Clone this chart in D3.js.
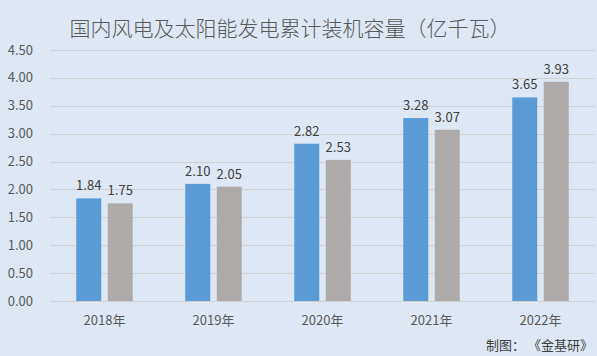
<!DOCTYPE html>
<html><head><meta charset="utf-8">
<script src="https://cdn.jsdelivr.net/npm/d3@7"></script>
<style>body{margin:0;background:#dde8f4;}svg{display:block;}</style>
</head><body>
<svg id="c" width="597" height="356"></svg>
<script>
const categories = ["2018年","2019年","2020年","2021年","2022年"];
const windValues = [1.84,2.10,2.82,3.28,3.65];
const solarValues = [1.75,2.05,2.53,3.07,3.93];
const yTicks = [0,0.5,1,1.5,2,2.5,3,3.5,4,4.5];
const seriesColors = ["#5b9bd5","#aeaaaa"];

(function(){
const svg = d3.select("#c");
const W=597,H=356;
svg.append("rect").attr("width",W).attr("height",H).attr("fill","#dde8f4");
const pl=50,pr=595,pt=50,pb=301;
const x = d3.scaleBand().domain(categories).range([pl,pr]);
const y = d3.scaleLinear().domain([0,4.5]).range([pb,pt]);
const font = "'Microsoft YaHei','Noto Sans CJK SC',sans-serif";

svg.append("g").selectAll("line").data(yTicks).join("line")
  .attr("x1",pl).attr("x2",pr).attr("y1",d=>Math.round(y(d))+0.5).attr("y2",d=>Math.round(y(d))+0.5)
  .attr("stroke","#d0d0d0").attr("stroke-width",1);
svg.append("g").selectAll("text").data(yTicks).join("text")
  .attr("x",33).attr("y",d=>y(d)).attr("dy","0.35em").attr("text-anchor","end")
  .attr("font-family",font).attr("font-size",13).attr("fill","#595959").text(d=>d3.format(".2f")(d));

const bw=25, gap=6.5;
const series=[windValues,solarValues];
series.forEach((vals,si)=>{
  const g=svg.append("g");
  const xpos = c => x(c)+x.bandwidth()/2 + (si===0 ? -gap/2-bw : gap/2);
  g.selectAll("rect").data(categories).join("rect")
    .attr("x",c=>xpos(c)).attr("width",bw)
    .attr("y",(c,i)=>y(vals[i])).attr("height",(c,i)=>y(0)-y(vals[i]))
    .attr("fill",seriesColors[si]);
  g.selectAll("text").data(categories).join("text")
    .attr("x",c=>xpos(c)+bw/2).attr("y",(c,i)=>y(vals[i])-8)
    .attr("text-anchor","middle").attr("font-family",font).attr("font-size",13).attr("fill","#404040")
    .text((c,i)=>vals[i].toFixed(2));
});

svg.append("g").selectAll("text").data(categories).join("text")
  .attr("x",c=>x(c)+x.bandwidth()/2).attr("y",325).attr("text-anchor","middle")
  .attr("font-family",font).attr("font-size",13).attr("fill","#595959").text(c=>c);

svg.append("text").attr("x",290).attr("y",36).attr("text-anchor","middle")
  .attr("font-family",font).attr("font-size",21).attr("font-weight",300).attr("fill","#595959")
  .text("国内风电及太阳能发电累计装机容量（亿千瓦）");
svg.append("text").attr("x",593).attr("y",350).attr("text-anchor","end")
  .attr("font-family",font).attr("font-size",13).attr("fill","#404040")
  .text("制图： 《金基研》");
})();
</script>
</body></html>
